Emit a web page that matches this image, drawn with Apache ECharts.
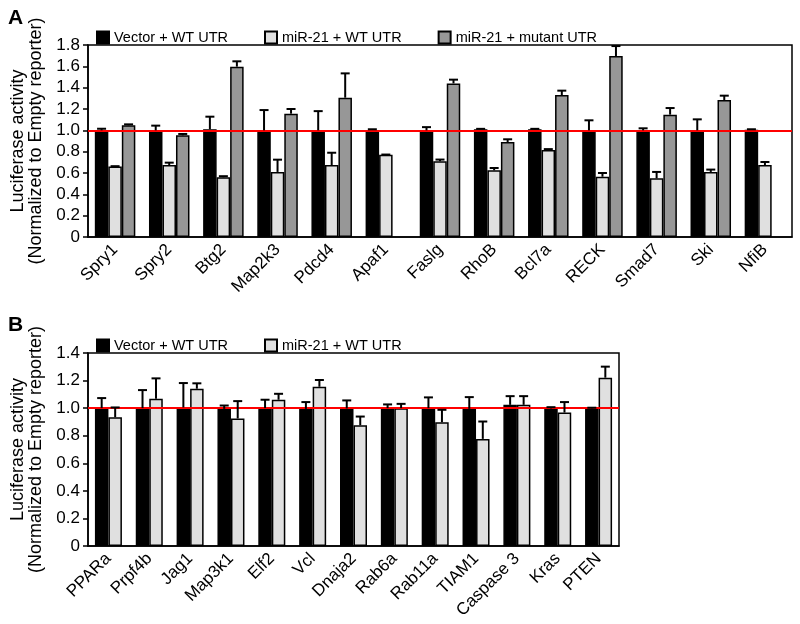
<!DOCTYPE html>
<html><head><meta charset="utf-8">
<script src="https://cdn.jsdelivr.net/npm/echarts/dist/echarts.min.js"></script>
<style>html,body{margin:0;padding:0;background:#fff}#c{width:800px;height:624px}</style>
</head><body><div id="c"></div>
<script>
// ---- Panel A data ----
var genesA = ['Spry1','Spry2','Btg2','Map2k3','Pdcd4','Apaf1','Faslg','RhoB','Bcl7a','RECK','Smad7','Ski','NfiB'];
var vectorA = [1.0,1.0,1.01,1.0,1.0,1.003,1.0,1.01,1.01,1.0,1.0,1.0,1.006];
var vectorAErr = [0.015,0.044,0.118,0.19,0.18,0.007,0.03,0.004,0.004,0.094,0.019,0.103,0.004];
var mirA = [0.66,0.675,0.56,0.61,0.675,0.77,0.71,0.625,0.815,0.565,0.55,0.61,0.675];
var mirAErr = [0.004,0.022,0.01,0.115,0.115,0.003,0.016,0.022,0.009,0.035,0.06,0.022,0.028];
var mutA = [1.047,0.953,1.597,1.156,1.306,null,1.44,0.89,1.331,1.697,1.147,1.284,null];
var mutAErr = [0.009,0.013,0.05,0.044,0.228,null,0.035,0.026,0.041,0.093,0.062,0.041,null];
// ---- Panel B data ----
var genesB = ['PPARa','Prpf4b','Jag1','Map3k1','Elf2','Vcl','Dnaja2','Rab6a','Rab11a','TIAM1','Caspase 3','Kras','PTEN'];
var vectorB = [1.0,1.0,1.005,0.995,1.0,0.995,0.998,1.0,1.0,0.995,1.024,0.998,0.998];
var vectorBErr = [0.073,0.131,0.177,0.024,0.061,0.049,0.058,0.027,0.078,0.085,0.063,0.009,0.005];
var mirB = [0.934,1.068,1.141,0.925,1.061,1.155,0.876,1.0,0.898,0.777,1.024,0.968,1.221];
var mirBErr = [0.071,0.148,0.039,0.126,0.043,0.049,0.063,0.031,0.09,0.126,0.063,0.076,0.08];

var seriesNames = ['Vector + WT UTR','miR-21 + WT UTR','miR-21 + mutant UTR'];
var colors = ['#000000','#e0e0e0','#979797'];
var FONT = 'Liberation Sans, Arial, Helvetica, sans-serif';
var BW = 13.5;

function barSeries(name, color, data, gi) {
  return {
    type:'bar', name:name, xAxisIndex:gi, yAxisIndex:gi, data:data,
    barWidth:BW, barGap:'0%',
    itemStyle:{color:color, borderColor:'#000', borderWidth:1.5},
    emphasis:{disabled:true}, z:2
  };
}
function errSeries(vals, errs, k, n, gi) {
  var d = [];
  for (var i=0;i<vals.length;i++) {
    if (vals[i]==null) continue;
    d.push([i, vals[i], vals[i]+errs[i]]);
  }
  return {
    type:'custom', xAxisIndex:gi, yAxisIndex:gi, data:d, z:5, silent:true,
    encode:{x:0, y:[1,2]},
    renderItem:function(params, api){
      var c = api.coord([api.value(0), api.value(1)]);
      var t = api.coord([api.value(0), api.value(2)]);
      var x = c[0] + (k - (n-1)/2)*BW;
      var cap = 4.5;
      return {type:'group', children:[
        {type:'line', shape:{x1:x,y1:c[1],x2:x,y2:t[1]}, style:{stroke:'#000',lineWidth:2}},
        {type:'line', shape:{x1:x-cap,y1:t[1],x2:x+cap,y2:t[1]}, style:{stroke:'#000',lineWidth:2}}
      ]};
    }
  };
}
function redLine() {
  return {silent:true, symbol:'none', label:{show:false},
    lineStyle:{color:'#ff0000', width:2, type:'solid'}, data:[{yAxis:1}]};
}
function yAxis(gi, max) {
  return {
    type:'value', gridIndex:gi, min:0, max:max, interval:0.2,
    name:'Luciferase activity\n(Normalized to Empty reporter)',
    nameLocation:'middle', nameGap:37,
    nameTextStyle:{fontFamily:FONT, fontSize:18, color:'#000', lineHeight:18},
    axisLine:{show:true, lineStyle:{color:'#000', width:1.5}},
    axisTick:{show:true, length:5, lineStyle:{color:'#000', width:1.5}},
    axisLabel:{fontFamily:FONT, fontSize:17, color:'#000', margin:8,
      formatter:function(v){ return v===0 ? '0' : v.toFixed(1); }},
    splitLine:{show:false}
  };
}
function xAxis(gi, cats) {
  return {
    type:'category', gridIndex:gi, data:cats,
    axisLine:{show:true, lineStyle:{color:'#000', width:1.5}},
    axisTick:{show:false},
    axisLabel:{fontFamily:FONT, fontSize:17, color:'#000', rotate:45, margin:10, interval:0}
  };
}

var sA0 = barSeries(seriesNames[0], colors[0], vectorA, 0);
sA0.markLine = redLine();
var sB0 = barSeries(seriesNames[0], colors[0], vectorB, 1);
sB0.markLine = redLine();

var option = {
  animation:false,
  textStyle:{fontFamily:FONT},
  title:[
    {text:'A', left:3, top:3, textStyle:{fontFamily:FONT, fontSize:21, fontWeight:'bold', color:'#000'}},
    {text:'B', left:3, top:310, textStyle:{fontFamily:FONT, fontSize:21, fontWeight:'bold', color:'#000'}}
  ],
  legend:[
    {data:seriesNames, left:91, top:25, itemWidth:12, itemHeight:12, itemGap:36, icon:'rect',
     textStyle:{fontFamily:FONT, fontSize:14.5, color:'#000'}, selectedMode:false},
    {data:seriesNames.slice(0,2), left:91, top:333, itemWidth:12, itemHeight:12, itemGap:36, icon:'rect',
     textStyle:{fontFamily:FONT, fontSize:14.5, color:'#000'}, selectedMode:false}
  ],
  grid:[
    {left:88, top:45, right:8, height:192, show:true, borderColor:'#000', borderWidth:1.5, backgroundColor:'transparent'},
    {left:88, top:353, width:531, height:193, show:true, borderColor:'#000', borderWidth:1.5, backgroundColor:'transparent'}
  ],
  xAxis:[xAxis(0, genesA), xAxis(1, genesB)],
  yAxis:[yAxis(0, 1.8), yAxis(1, 1.4)],
  series:[
    sA0,
    barSeries(seriesNames[1], colors[1], mirA, 0),
    barSeries(seriesNames[2], colors[2], mutA, 0),
    errSeries(vectorA, vectorAErr, 0, 3, 0),
    errSeries(mirA, mirAErr, 1, 3, 0),
    errSeries(mutA, mutAErr, 2, 3, 0),
    sB0,
    barSeries(seriesNames[1], colors[1], mirB, 1),
    errSeries(vectorB, vectorBErr, 0, 2, 1),
    errSeries(mirB, mirBErr, 1, 2, 1)
  ]
};
var chart = echarts.init(document.getElementById('c'), null, {renderer:'canvas'});
chart.setOption(option);
</script>
</body></html>
